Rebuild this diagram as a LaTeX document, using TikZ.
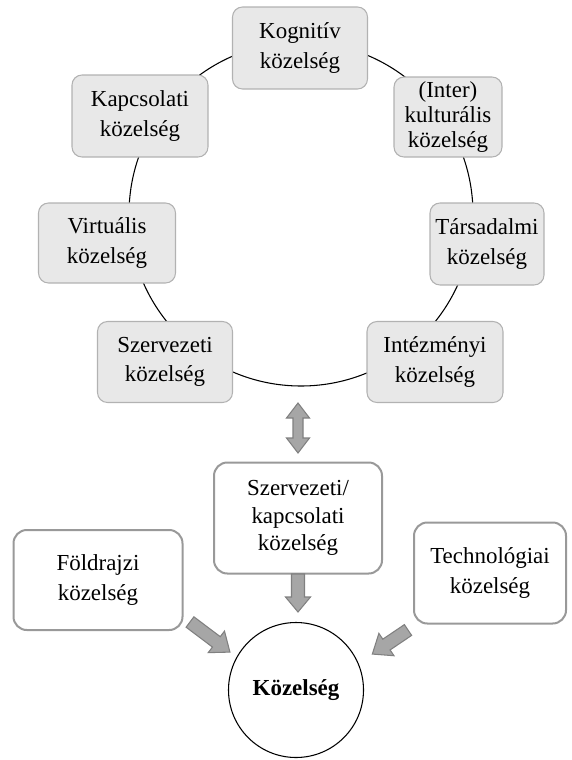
\documentclass[tikz,border=0pt]{standalone}
\usepackage{fontspec}
\setmainfont{Liberation Serif}
\begin{document}
\begin{tikzpicture}[x=0.75pt,y=-0.75pt,
  txt/.style={align=center, inner sep=0pt, font=\fontsize{17.2}{22}\selectfont},
  gbox/.style={txt, draw=black!30, fill=black!9, rounded corners=7.5pt, line width=0.8pt},
  wbox/.style={txt, draw=black!40, fill=white, rounded corners=10pt, line width=1.5pt},
  barrow/.style={fill=black!35, draw=black!50, line width=0.8pt},
  pics/blk/.style n args={4}{code={
    \filldraw[barrow] (0,-#2) -- ({#1-#4},-#2) -- ({#1-#4},-#3) -- (#1,0)
      -- ({#1-#4},#3) -- ({#1-#4},#2) -- (0,#2) -- cycle;}},
  pics/dblk/.style n args={4}{code={
    \filldraw[barrow] (0,0) -- (#4,-#3) -- (#4,-#2) -- ({#1-#4},-#2) -- ({#1-#4},-#3)
      -- (#1,0) -- ({#1-#4},#3) -- ({#1-#4},#2) -- (#4,#2) -- (#4,#3) -- cycle;}}
]
\useasboundingbox (0,0) rectangle (571,760);

% ring
\draw[line width=0.8pt] (301,214) circle[radius=172*0.75pt];

% ring boxes
\node[gbox, minimum width=135*0.75pt, minimum height=82*0.75pt] (kog) at (300,48) {Kognitív\\közelség};
\node[gbox, minimum width=108*0.75pt, minimum height=80*0.75pt, font=\fontsize{17.2}{19}\selectfont] (kul) at (448,117) {(Inter)\\kulturális\\közelség};
\node[gbox, minimum width=114*0.75pt, minimum height=82*0.75pt] (tar) at (487,244) {Társadalmi\\közelség};
\node[gbox, minimum width=136*0.75pt, minimum height=81*0.75pt] (int) at (435,362) {Intézményi\\közelség};
\node[gbox, minimum width=135*0.75pt, minimum height=81*0.75pt] (sze) at (165,362) {Szervezeti\\közelség};
\node[gbox, minimum width=137*0.75pt, minimum height=80*0.75pt] (vir) at (107,243) {Virtuális\\közelség};
\node[gbox, minimum width=136*0.75pt, minimum height=82*0.75pt] (kap) at (140,116) {Kapcsolati\\közelség};

% lower boxes
\node[wbox, minimum width=168*0.75pt, minimum height=111*0.75pt, font=\fontsize{17.2}{20.5}\selectfont] (szk) at (298,518) {Szervezeti/\\kapcsolati\\közelség};
\node[wbox, minimum width=169*0.75pt, minimum height=100*0.75pt] (fol) at (98,580) {Földrajzi\\közelség};
\node[wbox, minimum width=152*0.75pt, minimum height=101*0.75pt] (tec) at (490,573) {Technológiai\\közelség};
\node[draw, line width=0.8pt, circle, minimum size=135*0.75pt, inner sep=0pt,
      font=\fontsize{17.2}{22}\selectfont\bfseries] (koz) at (296,690) {Közelség};

% block arrows
\pic[rotate=-90] at (298,403) {dblk={50}{5}{11.5}{15}};
\pic[rotate=-90] at (298,574) {blk={38}{6.5}{12.5}{15}};
\pic[rotate=-37] at (190,622) {blk={50}{6.5}{13.5}{17}};
\pic[rotate=-146] at (408,630) {blk={43}{6.5}{13.5}{17}};
\end{tikzpicture}
\end{document}
